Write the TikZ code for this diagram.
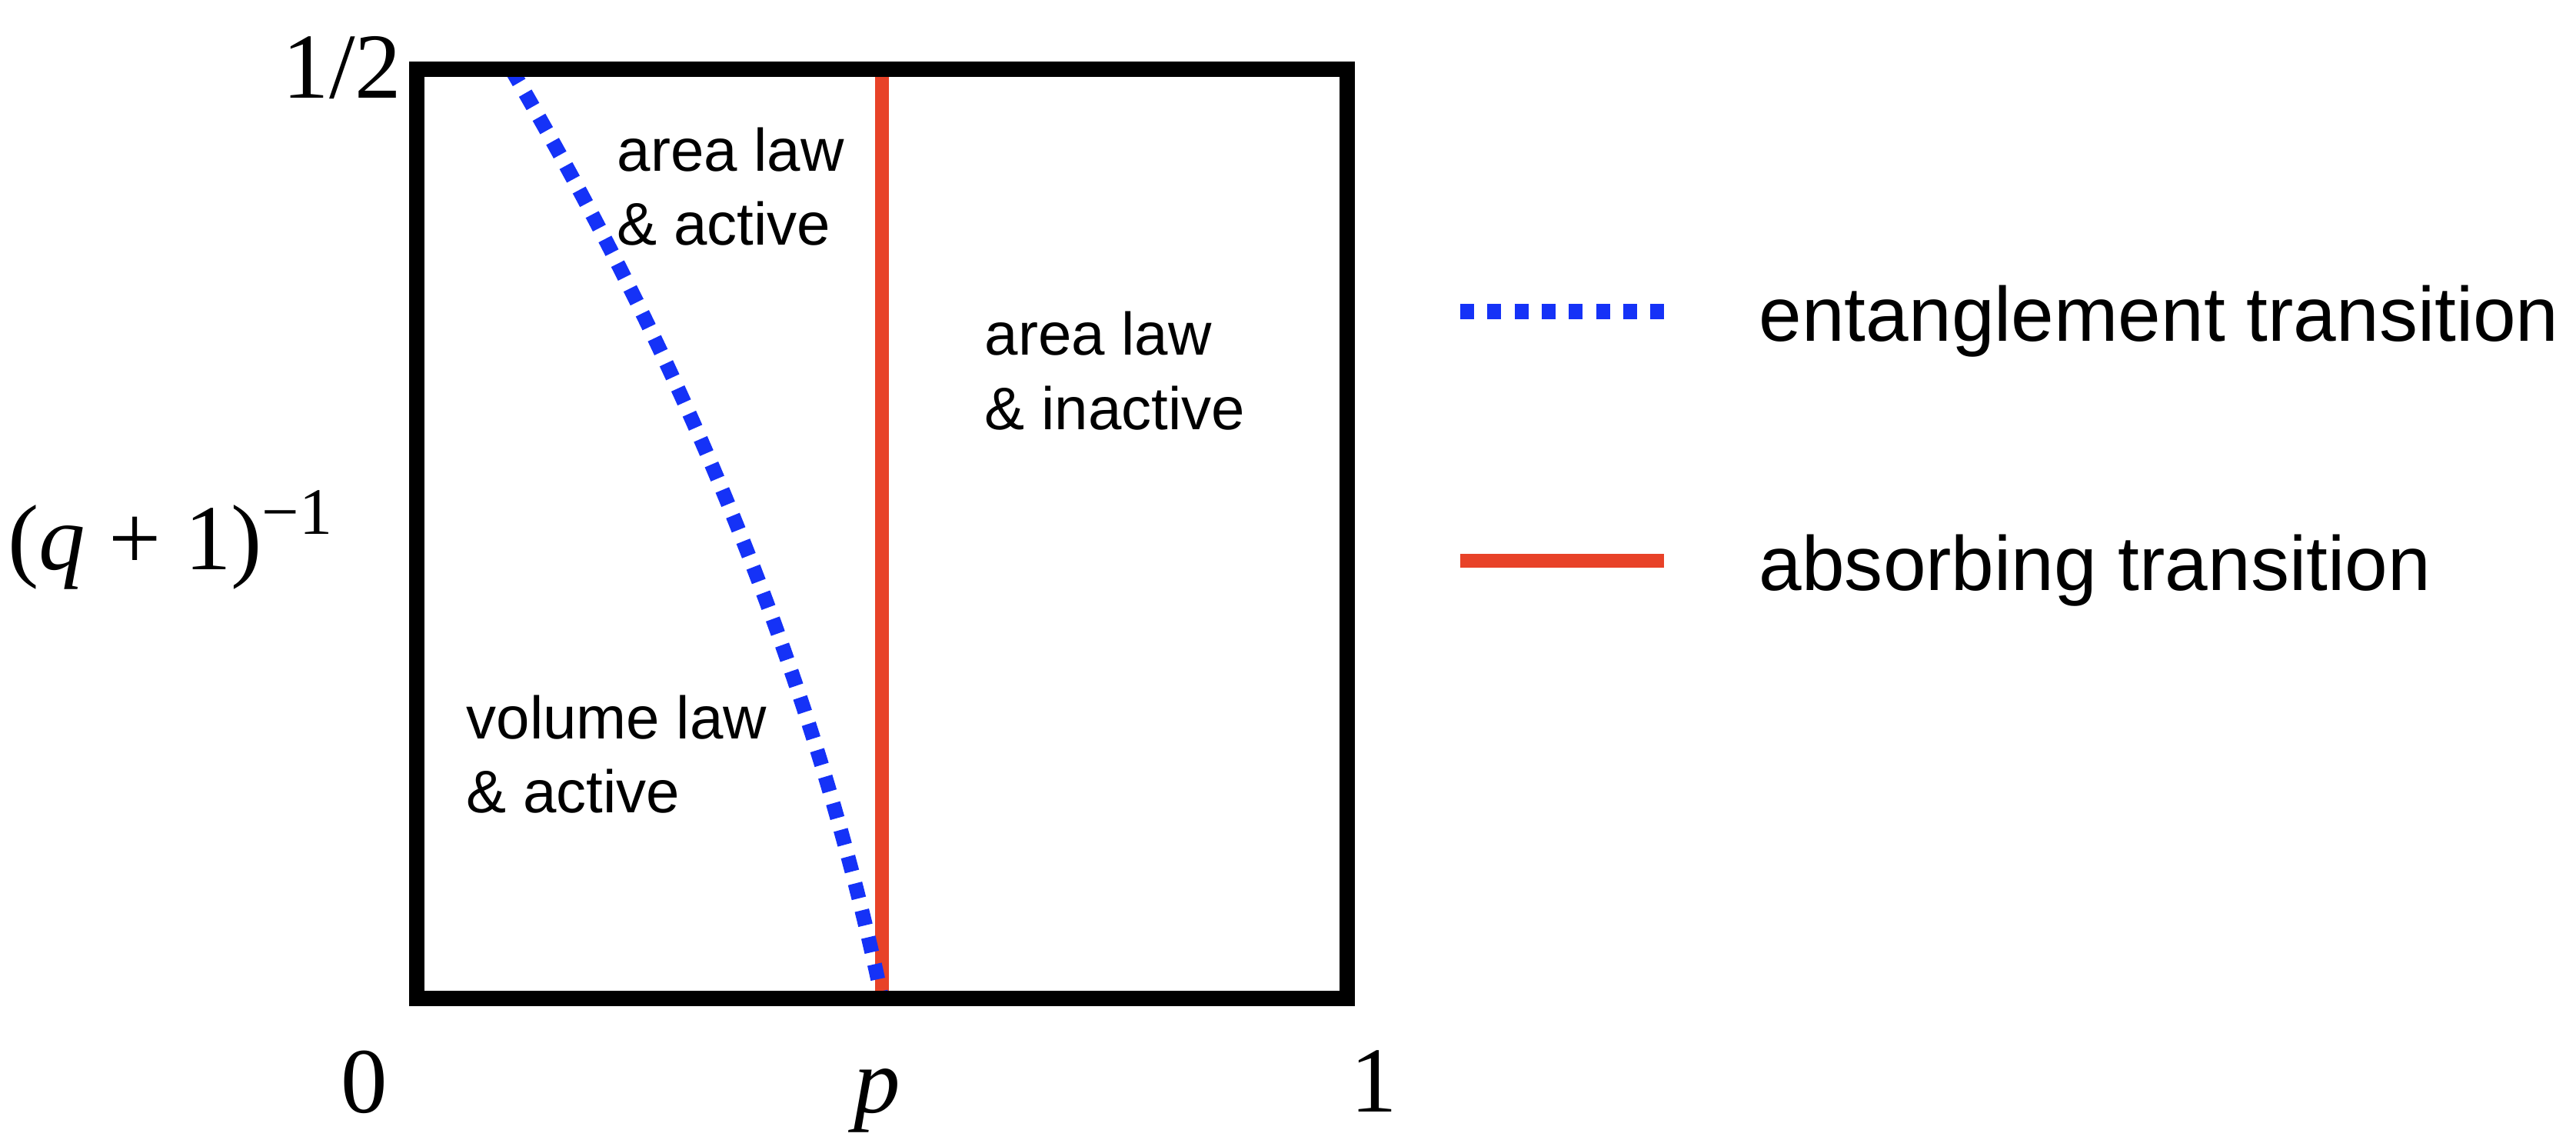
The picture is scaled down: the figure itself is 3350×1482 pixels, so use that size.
\documentclass[tikz,border=0pt]{standalone}
\usepackage{fontspec}
\setmainfont{Liberation Serif}
\newfontfamily\lsans{Liberation Sans}
\definecolor{entblue}{RGB}{21,50,247}
\definecolor{absred}{RGB}{232,66,40}
\begin{document}
\begin{tikzpicture}[x=0.01cm,y=-0.01cm,
  boxline/.style={line width=0.2cm, line join=miter},
  entline/.style={draw=entblue, line width=0.19cm},
  absline/.style={draw=absred, line width=0.18cm},
  mathlbl/.style={font=\fontsize{34.4pt}{40pt}\selectfont, inner sep=0},
  region/.style={font=\lsans\fontsize{22.2pt}{27.3pt}\selectfont, inner sep=0, anchor=base west},
  legtext/.style={font=\lsans\fontsize{28.45pt}{34pt}\selectfont, inner sep=0, anchor=base west}]
\path[use as bounding box] (0,0) rectangle (3350,1482);
% frame corners
\coordinate (tl) at (542,90);
\coordinate (tr) at (1752,90);
\coordinate (br) at (1752,1298);
\coordinate (bl) at (542,1298);
% transition lines
\coordinate (etop) at (665,90);
\coordinate (ptop) at (1147,90);
\coordinate (pbot) at (1147,1298);
\draw[absline] (ptop) -- (pbot);
\draw[entline, dash pattern=on 0.2cm off 0.16cm] (etop) .. controls (901,493) and (1062,895) .. (pbot);
\draw[boxline] (tl) -- (tr) -- (br) -- (bl) -- cycle;
% axis labels
\node[mathlbl, anchor=base east] (half) at (523,128) {1/2};
\node[mathlbl, anchor=base west] (qlab) at (10,740) {(\textit{q} + 1)\raisebox{0.45cm}{\fontsize{24.5pt}{28pt}\selectfont −1}};
\node[mathlbl, anchor=base] (zero) at (474,1446) {0};
\node[mathlbl, anchor=base] (plab) at (1141,1446) {\textit{p}};
\node[mathlbl, anchor=base] (one) at (1787,1445) {1};
% region labels
\node[region] (aa) at (802,222) {\begin{tabular}[t]{@{}l@{}}area law\\ \& active\end{tabular}};
\node[region] (ai) at (1280,462) {\begin{tabular}[t]{@{}l@{}}area law\\ \& inactive\end{tabular}};
\node[region] (va) at (606,960) {\begin{tabular}[t]{@{}l@{}}volume law\\ \& active\end{tabular}};
% legend
\coordinate (lb1) at (1899,405);
\coordinate (lb2) at (2164,405);
\coordinate (lr1) at (1899,729);
\coordinate (lr2) at (2164,729);
\draw[entline, dash pattern=on 0.18cm off 0.173cm] (lb1) -- (lb2);
\draw[absline] (lr1) -- (lr2);
\node[legtext] (lent) at (2287,443) {entanglement transition};
\node[legtext] (labs) at (2287,767) {absorbing transition};
\end{tikzpicture}
\end{document}
